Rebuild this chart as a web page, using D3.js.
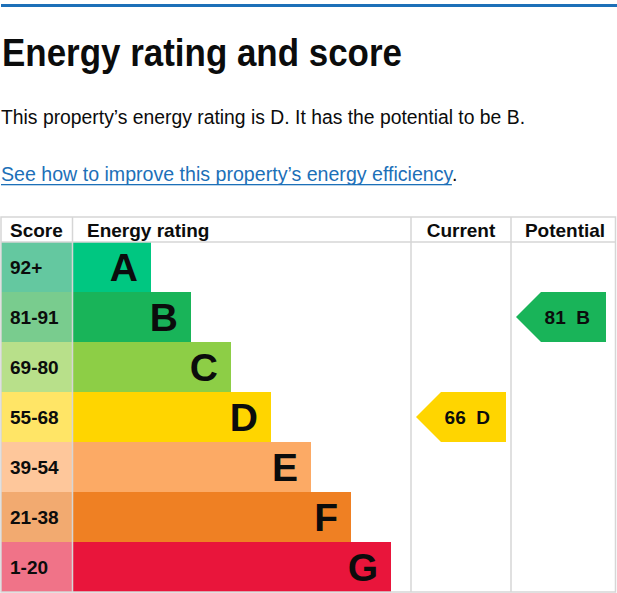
<!DOCTYPE html>
<html>
<head>
<meta charset="utf-8">
<script src="https://cdn.jsdelivr.net/npm/d3@7"></script>
<style>
  html, body { margin: 0; padding: 0; background: #fff; }
  svg { display: block; font-family: "Liberation Sans", Arial, sans-serif; }
</style>
</head>
<body>
<div id="chart"></div>
<script>
// data
const bands = ["A", "B", "C", "D", "E", "F", "G"];
const scoreRanges = ["92+", "81-91", "69-80", "55-68", "39-54", "21-38", "1-20"];
const barColors = ["#00c781", "#19b459", "#8dce46", "#ffd500", "#fcaa65", "#ef8023", "#e9153b"];
const scoreColors = ["#64c8a0", "#79cc8e", "#b8e08a", "#ffe566", "#fec79b", "#f2aa70", "#f07388"];
const columns = ["Score", "Energy rating", "Current", "Potential"];
const currentRating = { score: 66, band: "D" };
const potentialRating = { score: 81, band: "B" };

const width = 617, height = 593;

const svg = d3.select("#chart")
  .append("svg")
  .attr("width", width)
  .attr("height", height);

// top rule
svg.append("rect")
  .attr("x", 1).attr("y", 4)
  .attr("width", 616).attr("height", 3)
  .attr("fill", "#1d70b8");

// heading and intro text
svg.append("text")
  .attr("x", 2).attr("y", 66)
  .attr("font-size", "39px")
  .attr("font-weight", "bold")
  .attr("fill", "#0b0c0c")
  .attr("textLength", 400)
  .attr("lengthAdjust", "spacingAndGlyphs")
  .text("Energy rating and score");

svg.append("text")
  .attr("x", 1).attr("y", 124)
  .attr("font-size", "20px")
  .attr("fill", "#0b0c0c")
  .attr("textLength", 524)
  .attr("lengthAdjust", "spacingAndGlyphs")
  .text(`This property’s energy rating is ${currentRating.band}. It has the potential to be ${potentialRating.band}.`);

const link = svg.append("text")
  .attr("x", 1).attr("y", 181)
  .attr("font-size", "19.6px");
const linkText = link.append("tspan")
  .attr("fill", "#1d70b8")
  .text("See how to improve this property’s energy efficiency");
link.append("tspan")
  .attr("fill", "#0b0c0c")
  .text(".");
svg.append("rect")
  .attr("x", 1).attr("y", 184)
  .attr("width", linkText.node().getComputedTextLength())
  .attr("height", 1.3)
  .attr("fill", "#1d70b8");

// table geometry
const tableTop = 217, headerBottom = 242, tableBottom = 592;
const colX = d3.scaleOrdinal().domain(columns).range([1, 72.5, 411, 511]);
const colEnd = 615.5;

const y = d3.scaleBand()
  .domain(bands)
  .range([headerBottom, tableBottom]);

const barEnd = d3.scaleLinear()
  .domain([0, bands.length - 1])
  .range([151, 391]);

// score cells
svg.append("g").selectAll("rect")
  .data(bands)
  .join("rect")
  .attr("x", colX("Score"))
  .attr("y", d => y(d))
  .attr("width", colX("Energy rating") - colX("Score"))
  .attr("height", y.bandwidth())
  .attr("fill", (d, i) => scoreColors[i]);

svg.append("g").selectAll("text")
  .data(bands)
  .join("text")
  .attr("x", 10)
  .attr("y", d => y(d) + y.bandwidth() / 2 + 7)
  .attr("font-size", "19px")
  .attr("font-weight", "bold")
  .attr("fill", "#0b0c0c")
  .text((d, i) => scoreRanges[i]);

// rating bars
svg.append("g").selectAll("rect")
  .data(bands)
  .join("rect")
  .attr("x", colX("Energy rating"))
  .attr("y", d => y(d))
  .attr("width", (d, i) => barEnd(i) - colX("Energy rating"))
  .attr("height", y.bandwidth())
  .attr("fill", (d, i) => barColors[i]);

svg.append("g").selectAll("text")
  .data(bands)
  .join("text")
  .attr("x", (d, i) => barEnd(i) - 13)
  .attr("y", d => y(d) + y.bandwidth() / 2 + 14)
  .attr("text-anchor", "end")
  .attr("font-size", "39px")
  .attr("font-weight", "bold")
  .attr("fill", "#0b0c0c")
  .text(d => d);

// grid lines
const grid = svg.append("g")
  .attr("stroke", "#d6d6d6")
  .attr("stroke-width", 1.5)
  .attr("fill", "none");
grid.append("rect")
  .attr("x", 1).attr("y", tableTop)
  .attr("width", colEnd - 1).attr("height", tableBottom - tableTop);
grid.append("line")
  .attr("x1", 1).attr("x2", colEnd)
  .attr("y1", headerBottom).attr("y2", headerBottom);
grid.selectAll("line.col")
  .data(columns.slice(1))
  .join("line")
  .attr("class", "col")
  .attr("x1", d => colX(d)).attr("x2", d => colX(d))
  .attr("y1", tableTop).attr("y2", tableBottom);

// header labels
const headerX = { "Score": 10, "Energy rating": 87, "Current": 461, "Potential": 565 };
svg.append("g").selectAll("text")
  .data(columns)
  .join("text")
  .attr("x", d => headerX[d])
  .attr("y", 237)
  .attr("text-anchor", d => (d === "Current" || d === "Potential") ? "middle" : "start")
  .attr("font-size", "19px")
  .attr("font-weight", "bold")
  .attr("fill", "#0b0c0c")
  .text(d => d);

// current / potential arrows
function drawArrow(rating, tipX, rightX) {
  const i = bands.indexOf(rating.band);
  const top = y(rating.band), h = y.bandwidth();
  const g = svg.append("g");
  g.append("path")
    .attr("d", `M${tipX},${top + h / 2} L${tipX + h / 2},${top} L${rightX},${top} L${rightX},${top + h} L${tipX + h / 2},${top + h} Z`)
    .attr("fill", barColors[i]);
  g.append("text")
    .attr("x", rightX - 16)
    .attr("y", top + h / 2 + 7)
    .attr("text-anchor", "end")
    .attr("font-size", "19px")
    .attr("font-weight", "bold")
    .attr("fill", "#0b0c0c")
    .attr("xml:space", "preserve")
    .text(`${rating.score}  ${rating.band}`);
}
drawArrow(currentRating, 416, 506);
drawArrow(potentialRating, 516, 606);
</script>
</body>
</html>
